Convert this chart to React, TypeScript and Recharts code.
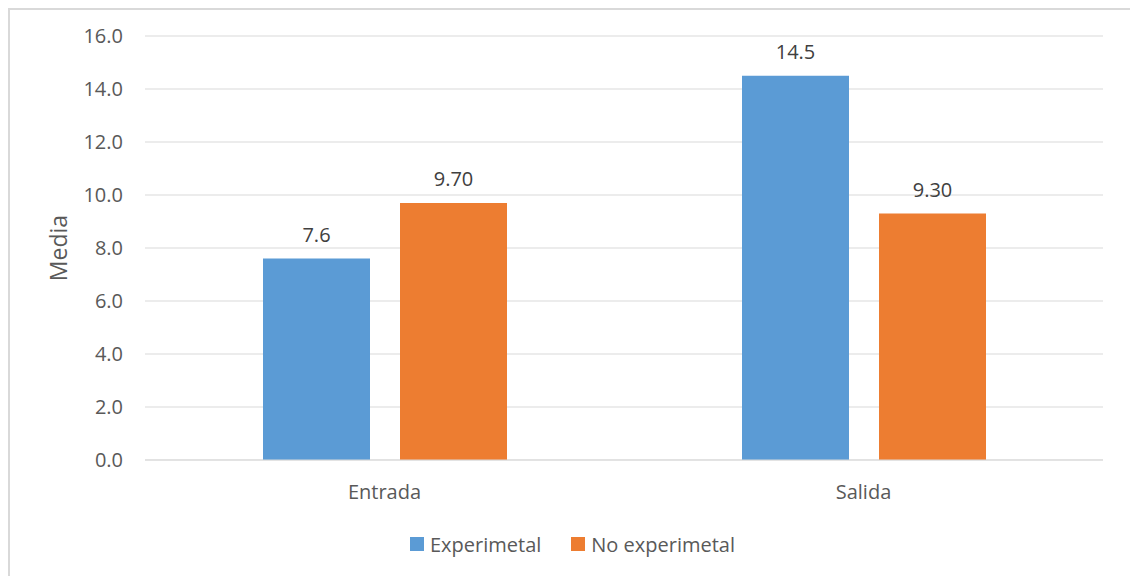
import { BarChart, Bar, XAxis, YAxis, CartesianGrid, Legend, LabelList } from 'recharts';

const categories = ['Entrada', 'Salida'];
const experimental = [7.6, 14.5];
const noExperimental = [9.7, 9.3];
const yTicks = [0, 2, 4, 6, 8, 10, 12, 14, 16];

const seriesNames = { experimental: 'Experimetal', noExperimental: 'No experimetal' };
const BLUE = '#5B9BD5';
const ORANGE = '#ED7D31';
const TEXT = '#595959';

const chartData = categories.map((name, i) => ({
    name,
    experimental: experimental[i],
    noExperimental: noExperimental[i],
}));

// rotated axis title, centred on the plot height
function MediaLabel({ viewBox }: any) {
    const cx = viewBox.x + 48.5;
    const cy = viewBox.y + viewBox.height / 2;
    return (
        <text
            x={cx}
            y={cy}
            dy="0.35em"
            textAnchor="middle"
            transform={`rotate(-90 ${cx} ${cy})`}
            fill={TEXT}
            fontSize={23}
        >
            Media
        </text>
    );
}

function LegendContent() {
    const items = [
        { label: seriesNames.experimental, color: BLUE },
        { label: seriesNames.noExperimental, color: ORANGE },
    ];
    return (
        <div style={{ display: 'flex', justifyContent: 'center', alignItems: 'center', height: 30, paddingLeft: 5, gap: 30, fontSize: 20, color: TEXT }}>
            {items.map(item => (
                <div key={item.label} style={{ display: 'flex', alignItems: 'center' }}>
                    <span style={{ display: 'inline-block', width: 14, height: 14, background: item.color, marginRight: 6 }} />
                    <span>{item.label}</span>
                </div>
            ))}
        </div>
    );
}

export default function App() {
    return (
        <div
            style={{
                position: 'fixed',
                top: 8,
                left: 8,
                width: 1122,
                height: 568,
                boxSizing: 'border-box',
                borderTop: '2px solid #d9d9d9',
                borderLeft: '2px solid #d9d9d9',
                background: '#fff',
                fontFamily: '"Open Sans", sans-serif',
            }}
        >
            <BarChart
                width={1120}
                height={566}
                data={chartData}
                margin={{ top: 26, right: 27, left: 0, bottom: 17 }}
                barSize={107}
                barGap={30}
            >
                <CartesianGrid vertical={false} stroke="#d9d9d9" />
                <XAxis
                    dataKey="name"
                    height={69}
                    tickLine={false}
                    tickSize={0}
                    tickMargin={25}
                    axisLine={{ stroke: '#d9d9d9' }}
                    tick={{ fill: TEXT, fontSize: 20 }}
                />
                <YAxis
                    width={135}
                    domain={[0, 16]}
                    ticks={yTicks}
                    tickFormatter={(v: number) => v.toFixed(1)}
                    axisLine={false}
                    tickLine={false}
                    tickSize={0}
                    tickMargin={22}
                    tick={{ fill: TEXT, fontSize: 20 }}
                    label={{ content: MediaLabel }}
                />
                <Legend
                    verticalAlign="bottom"
                    content={LegendContent}
                    wrapperStyle={{ left: 0, width: 1120 }}
                />
                <Bar dataKey="experimental" name={seriesNames.experimental} fill={BLUE} isAnimationActive={false}>
                    <LabelList
                        dataKey="experimental"
                        position="top"
                        offset={17}
                        fill="#404040"
                        fontSize={20}
                        formatter={(v: any) => Number(v).toFixed(1)}
                    />
                </Bar>
                <Bar dataKey="noExperimental" name={seriesNames.noExperimental} fill={ORANGE} isAnimationActive={false}>
                    <LabelList
                        dataKey="noExperimental"
                        position="top"
                        offset={17}
                        fill="#404040"
                        fontSize={20}
                        formatter={(v: any) => Number(v).toFixed(2)}
                    />
                </Bar>
            </BarChart>
        </div>
    );
}
